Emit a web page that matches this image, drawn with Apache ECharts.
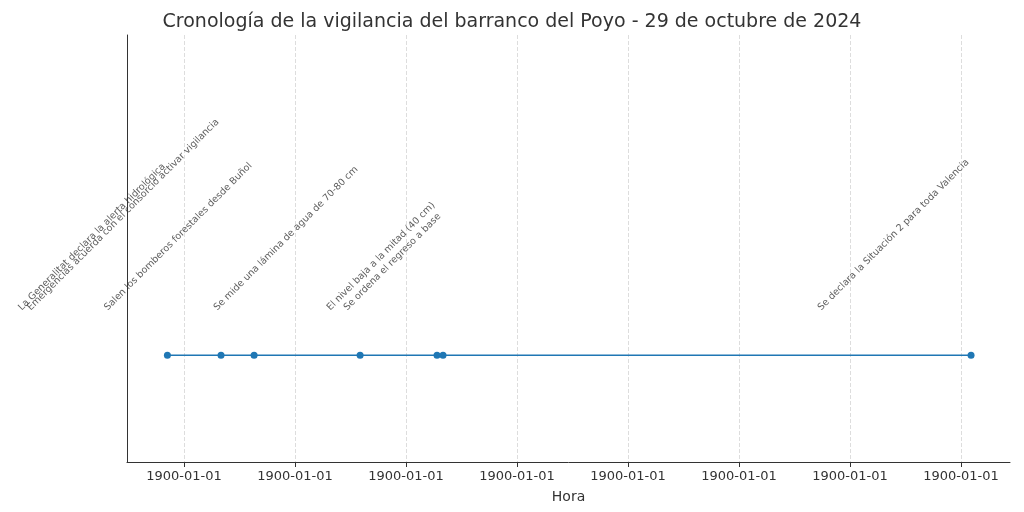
<!DOCTYPE html><html><head><meta charset="utf-8"><script src="https://cdn.jsdelivr.net/npm/echarts@6/dist/echarts.min.js"></script></head><body style="margin:0"><div id="c" style="width:1024px;height:512px"></div><script>
const hours=[7.85,8.333,8.631,9.586,10.279,10.333,15.09];
const events=["La Generalitat declara la alerta hidrológica","Emergencias acuerda con el consorcio activar vigilancia","Salen los bomberos forestales desde Buñol","Se mide una lámina de agua de 70-80 cm","El nivel baja a la mitad (40 cm)","Se ordena el regreso a base","Se declara la Situación 2 para toda Valencia"];
const tickValues=[8,9,10,11,12,13,14,15];
const tickLabel="1900-01-01";
const xmin=7.486,xmax=15.441,pxPerUnit=111;
const cv=document.createElement('canvas').getContext('2d');cv.font='9.5px "DejaVu Sans"';
const labelData=events.map((t,i)=>[hours[i]-cv.measureText(t).width*0.707/pxPerUnit,0.35,t]);
const ch=echarts.init(document.getElementById('c'));
ch.setOption({animation:false,
title:{text:'Cronología de la vigilancia del barranco del Poyo - 29 de octubre de 2024',left:'center',top:8,textStyle:{fontFamily:'DejaVu Sans',fontSize:19,fontWeight:'normal',color:'#333'}},
grid:{left:127,right:14,top:35,bottom:50},
xAxis:{type:'value',min:xmin,max:xmax,name:'Hora',nameLocation:'middle',nameGap:28,nameTextStyle:{fontFamily:'DejaVu Sans',fontSize:14,color:'#333'},
axisLine:{lineStyle:{color:'#333'}},axisTick:{show:true,customValues:tickValues,lineStyle:{color:'#333'}},
axisLabel:{customValues:tickValues,formatter:()=>tickLabel,fontFamily:'DejaVu Sans',fontSize:13,color:'#333'},
splitLine:{show:true,lineStyle:{type:'dashed',color:'#ddd'}}},
yAxis:{type:'value',min:0,max:1,axisLine:{show:true,lineStyle:{color:'#333'}},axisTick:{show:false},axisLabel:{show:false},splitLine:{show:false}},
series:[{type:'line',data:hours.map(h=>[h,0.25]),symbol:'circle',symbolSize:7,itemStyle:{color:'#1f77b4'},lineStyle:{color:'#1f77b4',width:1.5}},
{type:'scatter',clip:false,data:labelData,symbolSize:0,label:{show:true,position:[0,0],align:'left',verticalAlign:'bottom',rotate:45,formatter:p=>p.data[2],fontFamily:'DejaVu Sans',fontSize:9.5,color:'#333'}}]});
</script></body></html>
